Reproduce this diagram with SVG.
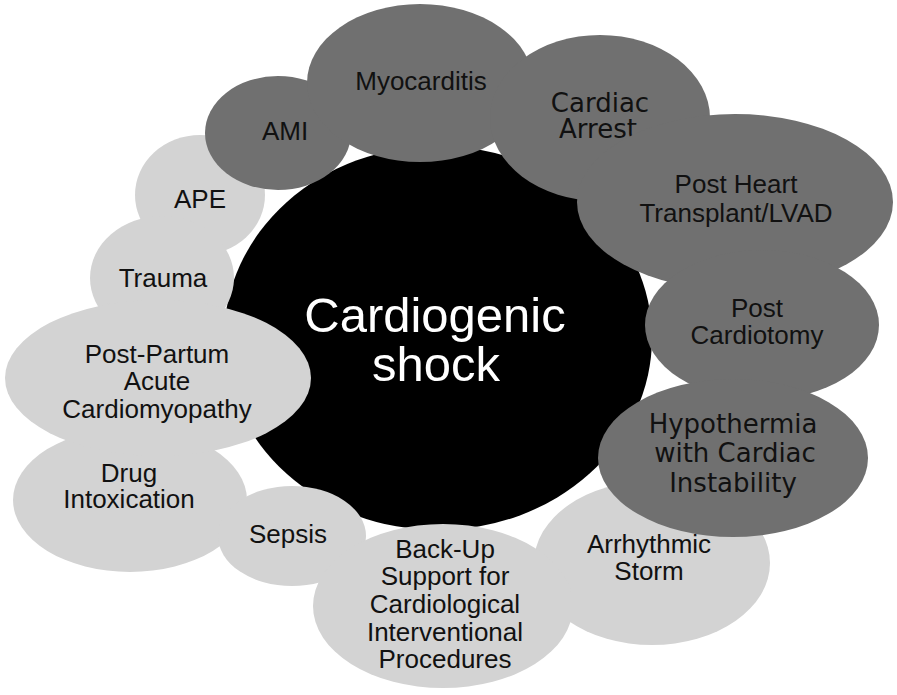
<svg xmlns="http://www.w3.org/2000/svg" width="897" height="695" viewBox="0 0 897 695">
<style>
.dark{fill:#707070}
.light{fill:#d3d3d3}
.core{fill:#000}
.t{font-family:"Liberation Sans",Arial,sans-serif;font-size:26px;fill:#111;text-anchor:middle}
.v{font-family:"DejaVu Sans",Verdana,sans-serif;font-size:26px;fill:#111;text-anchor:middle}
.c{font-family:"Liberation Sans",Arial,sans-serif;font-size:49px;fill:#fff;text-anchor:middle}
</style>
<rect width="897" height="695" fill="#fff"/>
<g id="connectors"></g>
<g id="center">
<ellipse class="core" cx="438" cy="338" rx="214" ry="192"/>
<text class="c" x="435" y="332">Cardiogenic</text>
<text class="c" x="436" y="381">shock</text>
</g>
<g id="ape"><ellipse class="light" cx="200" cy="195" rx="65" ry="60"/><text class="t" x="200" y="208">APE</text></g>
<g id="trauma"><ellipse class="light" cx="162" cy="278" rx="72" ry="62"/><text class="t" x="163" y="287">Trauma</text></g>
<g id="drug"><ellipse class="light" cx="130" cy="500" rx="117" ry="72"/><text class="t" x="129" y="482">Drug</text><text class="t" x="129" y="508">Intoxication</text></g>
<g id="postpartum"><ellipse class="light" cx="158" cy="378" rx="153" ry="78"/><text class="t" x="157" y="363">Post-Partum</text><text class="t" x="157" y="390">Acute</text><text class="t" x="157" y="418">Cardiomyopathy</text></g>
<g id="sepsis"><ellipse class="light" cx="292" cy="536" rx="74" ry="50"/><text class="t" x="288" y="543">Sepsis</text></g>
<g id="arrhythmic"><ellipse class="light" cx="652" cy="563" rx="118" ry="82"/><text class="t" x="649" y="553">Arrhythmic</text><text class="t" x="649" y="580">Storm</text></g>
<g id="backup"><ellipse class="light" cx="443" cy="606" rx="130" ry="82"/><text class="t" x="445" y="558">Back-Up</text><text class="t" x="445" y="585">Support for</text><text class="t" x="445" y="613">Cardiological</text><text class="t" x="445" y="641">Interventional</text><text class="t" x="445" y="668">Procedures</text></g>
<g id="ami"><ellipse class="dark" cx="278" cy="133" rx="73" ry="57"/><text class="t" x="285" y="140">AMI</text></g>
<g id="myocarditis"><ellipse class="dark" cx="420" cy="83" rx="113" ry="79"/><text class="t" x="421" y="90">Myocarditis</text></g>
<g id="cardiacarrest"><ellipse class="dark" cx="600" cy="118" rx="110" ry="83"/><text class="v" x="600" y="112">Cardiac</text><text class="v" x="598" y="138">Arrest</text></g>
<g id="postheart"><ellipse class="dark" cx="735" cy="202" rx="158" ry="88"/><text class="t" x="736" y="193">Post Heart</text><text class="t" x="736" y="222">Transplant/LVAD</text></g>
<g id="postcardiotomy"><ellipse class="dark" cx="762" cy="325" rx="117" ry="75"/><text class="t" x="757" y="317">Post</text><text class="t" x="757" y="344">Cardiotomy</text></g>
<g id="hypothermia"><ellipse class="dark" cx="733" cy="458" rx="135" ry="79"/><text class="v" x="733" y="433">Hypothermia</text><text class="v" x="735" y="462">with Cardiac</text><text class="v" x="733" y="492">Instability</text></g>
</svg>
